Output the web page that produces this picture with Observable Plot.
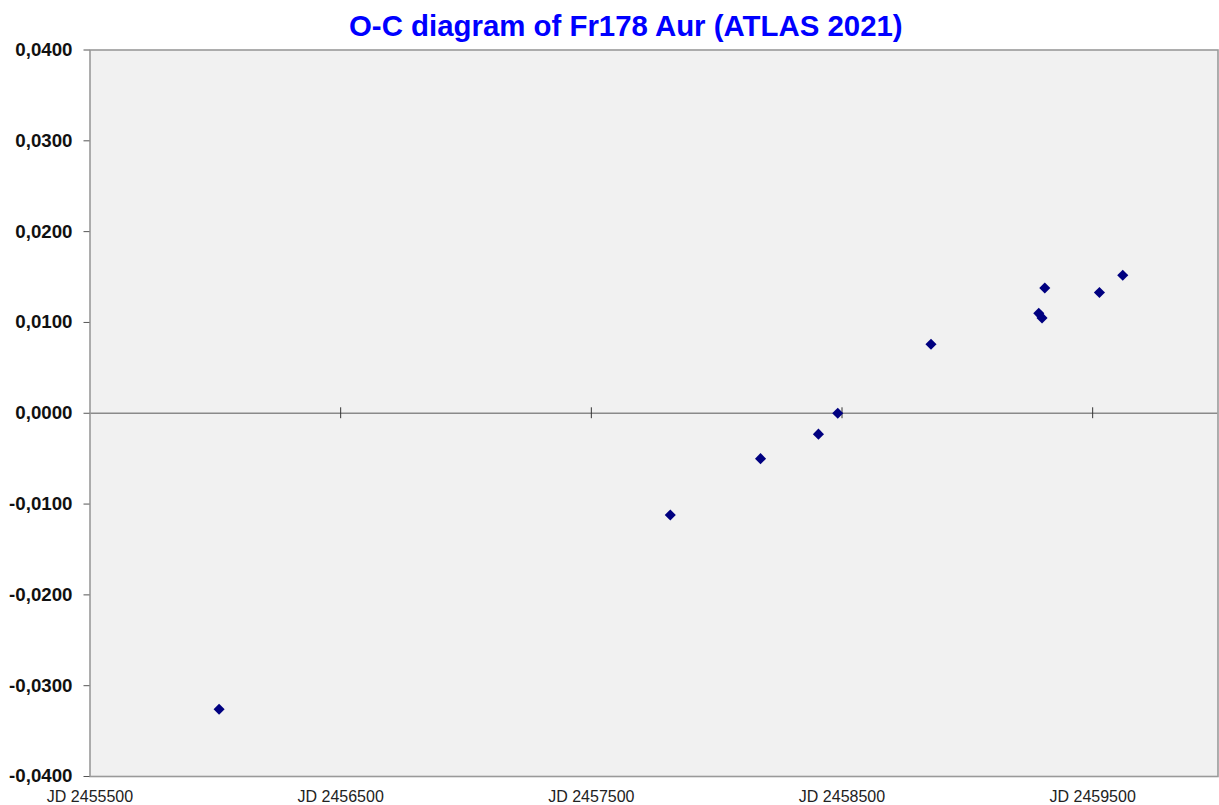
<!DOCTYPE html>
<html><head><meta charset="utf-8">
<script src="https://cdn.jsdelivr.net/npm/d3@7"></script>
<script src="https://cdn.jsdelivr.net/npm/@observablehq/plot@0.6"></script>
<style>
body{margin:0;background:#fff;font-family:"Liberation Sans",Arial,sans-serif;}
#title{height:44px;position:relative;width:1219px;}
#title span{position:absolute;left:349px;top:9px;font-weight:bold;font-size:29.4px;color:#0000ff;white-space:nowrap;}
</style></head><body>
<div id="title"><span>O-C diagram of Fr178 Aur (ATLAS 2021)</span></div>
<div id="chart"></div>
<script>
// Observations: Julian Date and O-C residual (days)
const jd = [2456015, 2457815, 2458175, 2458406, 2458483, 2458855, 2459285, 2459298, 2459309, 2459527, 2459620];
const oc = [-0.0326, -0.0112, -0.0050, -0.0023, 0.0000, 0.0076, 0.0110, 0.0105, 0.0138, 0.0133, 0.0152];
const xTicks = [2455500, 2456500, 2457500, 2458500, 2459500];
const yTicks = [-0.04, -0.03, -0.02, -0.01, 0, 0.01, 0.02, 0.03, 0.04];

const data = jd.map((x, i) => ({jd: x, oc: oc[i]}));
const fmtY = d => (d < 0 ? "-" : "") + Math.abs(d).toFixed(4).replace(".", ",");

const chart = Plot.plot({
  width: 1219,
  height: 761,
  marginTop: 5.5,
  marginBottom: 29,
  marginLeft: 89.5,
  marginRight: 1.5,
  style: {fontFamily: "Liberation Sans, Arial, sans-serif", background: "white", overflow: "visible"},
  x: {domain: [2455500, 2460000]},
  y: {domain: [-0.04, 0.04]},
  marks: [
    Plot.frame({fill: "#f1f1f1"}),
    Plot.ruleY([0], {stroke: "#8a8a8a", strokeWidth: 1.6}),
    Plot.ruleX(xTicks.slice(1), {y1: -0.0006, y2: 0.0006, stroke: "#333", strokeWidth: 1}),
    Plot.dot(data, {x: "jd", y: "oc", symbol: "diamond2", r: 5, fill: "#000080", stroke: "none"}),
    Plot.frame({stroke: "#9a9a9a", strokeWidth: 1.6}),
    Plot.axisY({ticks: yTicks, tickFormat: fmtY, tickSize: 6, tickPadding: 11.5, fontSize: 18.7, fontWeight: "bold", label: null, color: "#111", stroke: "#555"}),
    Plot.axisX({ticks: xTicks, tickFormat: d => "JD " + d, tickSize: 0, tickPadding: 14, fontSize: 16, label: null, color: "#222"})
  ]
});
document.getElementById("chart").appendChild(chart);
</script>
</body></html>
